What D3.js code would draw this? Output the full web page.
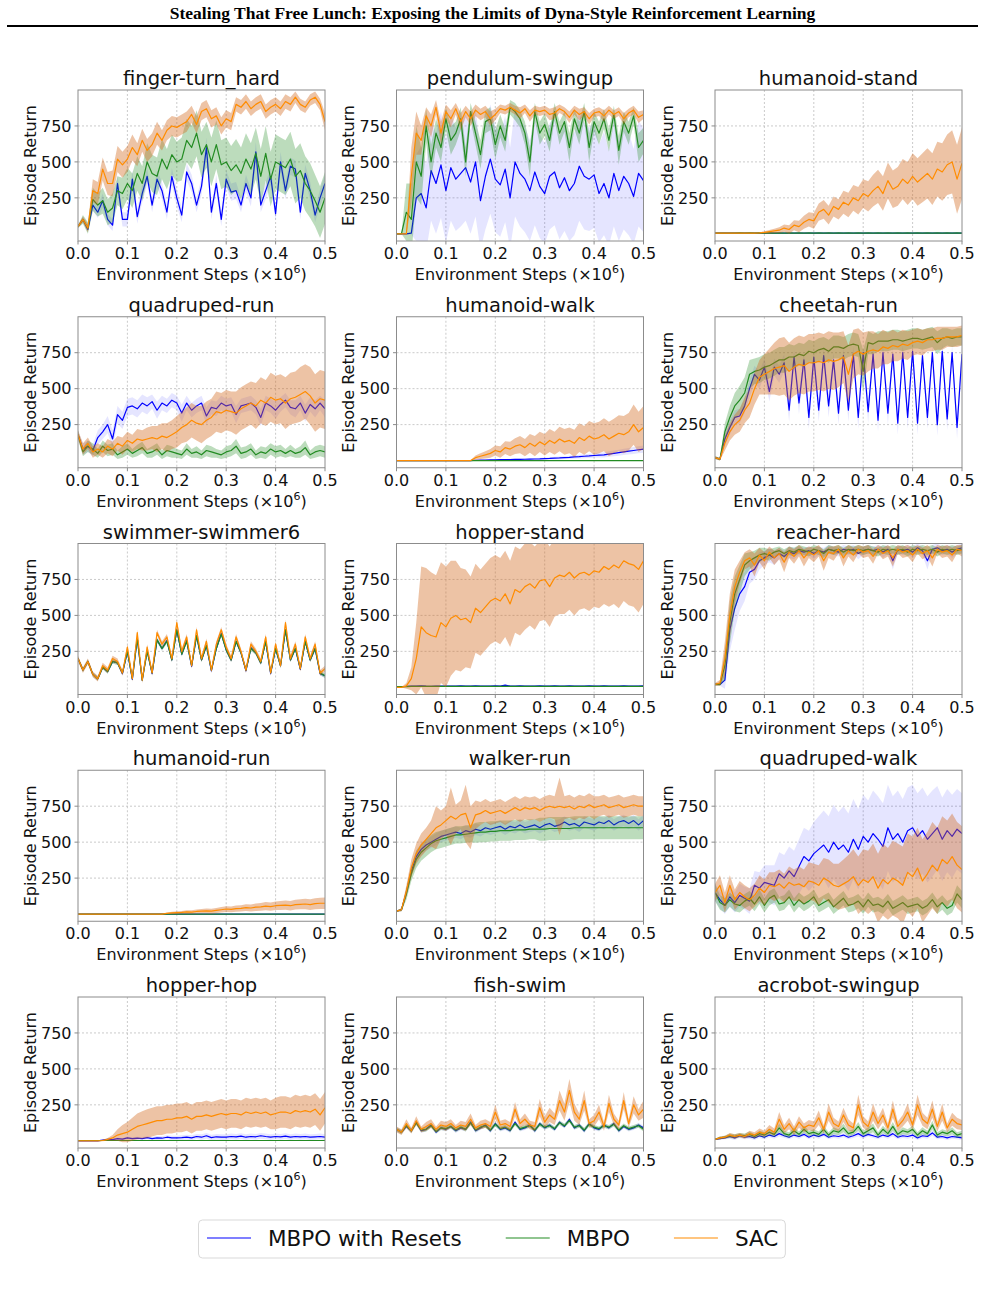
<!DOCTYPE html>
<html>
<head>
<meta charset="utf-8" />
<title>Dyna-style RL returns</title>
<style>
  body { margin: 0; background: #fff; }
  svg { display: block; font-family: "DejaVu Sans", sans-serif; }
</style>
</head>
<body>
<div id="chart"></div>
<script src="https://cdn.jsdelivr.net/npm/d3@7/dist/d3.min.js"></script>
<script>
// x grid: environment steps (x10^6)
const steps = [0,0.01,0.02,0.03,0.04,0.05,0.06,0.07,0.08,0.09,0.1,0.11,0.12,0.13,0.14,0.15,0.16,0.17,0.18,0.19,0.2,0.21,0.22,0.23,0.24,0.25,0.26,0.27,0.28,0.29,0.3,0.31,0.32,0.33,0.34,0.35,0.36,0.37,0.38,0.39,0.4,0.41,0.42,0.43,0.44,0.45,0.46,0.47,0.48,0.49,0.5];

const tasks = ["finger-turn_hard", "pendulum-swingup", "humanoid-stand", "quadruped-run", "humanoid-walk", "cheetah-run",
  "swimmer-swimmer6", "hopper-stand", "reacher-hard", "humanoid-run", "walker-run", "quadruped-walk",
  "hopper-hop", "fish-swim", "acrobot-swingup"];
const methods = ["MBPO with Resets", "MBPO", "SAC"];
const xTicks = [0, 0.1, 0.2, 0.3, 0.4, 0.5];
const yTicks = [250, 500, 750];

// finger-turn_hard
const finger_resets = [50,100,30,200,150,230,100,60,350,100, 100,380,120,280,400,200,380,300,150,400, 250,130,430,350,200,330,600,150,350,100, 380,290,300,200,350,250,570,200,300,400, 140,500,300,470,450,150,420,300,130,250, 350];
const finger_resets_sd = [10,20,20,40,40,50,40,40,60,50, 50,60,50,60,60,50,60,60,50,60, 60,50,60,60,50,60,70,50,60,50, 60,60,60,50,60,60,70,50,60,60, 50,70,60,60,60,50,60,60,50,60, 60];
const finger_mbpo = [50,100,40,240,200,230,150,180,300,280, 350,300,420,350,500,420,400,520,450,550, 500,520,650,600,700,550,620,500,620,480, 500,440,480,420,520,450,560,400,560,380, 500,480,460,520,400,440,350,300,230,150, 250];
const finger_mbpo_sd = [10,30,40,80,80,90,90,100,100,110, 110,120,120,120,130,130,130,140,140,140, 140,150,150,150,160,160,160,170,170,170, 170,170,180,180,180,180,180,190,190,190, 190,190,190,190,190,190,190,190,180,180, 180];
const finger_sac = [50,100,40,300,280,450,350,350,520,480, 520,600,550,650,580,620,700,650,720,750, 740,760,780,830,760,850,870,800,820,750, 800,780,900,880,920,870,900,920,850,880, 900,870,920,900,950,900,880,930,950,900, 780];
const finger_sac_sd = [10,20,30,80,80,80,80,90,90,90, 90,90,80,80,80,80,80,70,70,70, 70,70,70,60,60,60,60,60,60,60, 60,60,50,50,50,50,50,50,50,50, 50,50,50,50,40,40,40,40,40,40, 60];

// pendulum-swingup
const pend_resets = [0,0,0,5,250,280,180,440,350,480, 300,460,380,420,460,360,500,230,400,520, 380,340,450,250,500,420,380,300,430,330, 280,400,430,320,390,300,350,470,400,380, 410,280,350,250,420,300,400,350,260,420, 370];
const pend_resets_sd = [0,0,0,10,300,330,300,350,350,370, 360,370,360,370,370,360,380,340,370,380, 370,360,370,350,380,370,370,350,370,360, 350,370,370,360,370,350,360,380,370,360, 370,340,360,330,370,350,370,360,330,370, 360];
const pend_mbpo = [0,0,150,100,500,400,750,500,700,600, 800,650,700,800,500,850,700,550,780,800, 620,750,650,880,850,800,700,500,850,700, 760,650,850,700,780,600,800,700,850,600, 780,700,800,650,830,580,780,700,820,600, 650];
const pend_mbpo_sd = [0,0,200,250,250,200,120,120,100,100, 80,100,80,80,100,60,80,100,80,80, 100,80,80,50,60,60,80,100,60,80, 80,80,60,80,70,100,70,80,60,100, 70,80,70,80,60,100,70,80,60,100, 90];
const pend_sac = [0,0,0,400,700,650,820,750,880,700, 850,800,870,780,850,800,860,830,850,800, 830,870,860,880,860,840,870,820,860,850, 860,830,840,870,850,810,860,830,850,800, 840,850,820,860,830,850,800,840,860,810, 830];
const pend_sac_sd = [0,0,5,200,150,100,60,80,50,80, 50,60,40,60,40,50,40,40,40,50, 40,30,30,30,30,40,30,40,30,30, 30,40,40,30,30,40,30,40,30,40, 30,30,40,30,30,30,40,30,30,40, 30];

// humanoid-stand
const hstand_resets = [5,5,5,5,5,5,5,5,5,5, 5,5,5,5,5,5,5,5,5,5, 5,5,5,5,5,5,5,5,5,5, 5,5,5,5,5,5,5,5,5,5, 5,5,5,5,5,5,5,5,5,5, 5];
const hstand_resets_sd = [2,2,2,2,2,2,2,2,2,2, 2,2,2,2,2,2,2,2,2,2, 2,2,2,2,2,2,2,2,2,2, 2,2,2,2,2,2,2,2,2,2, 2,2,2,2,2,2,2,2,2,2, 2];
const hstand_mbpo = [5,5,5,5,5,6,5,6,5,6, 5,6,5,6,5,6,5,6,5,6, 5,6,5,6,5,6,5,6,5,6, 5,6,5,6,5,6,5,6,5,6, 5,6,5,6,5,6,5,6,5,6, 5];
const hstand_mbpo_sd = [2,2,2,2,2,2,2,2,2,2, 2,2,2,2,2,2,2,2,2,2, 2,2,2,2,2,2,2,2,2,2, 2,2,2,2,2,2,2,2,2,2, 2,2,2,2,2,2,2,2,2,2, 2];
const hstand_sac = [5,5,5,5,5,5,5,5,5,6, 10,15,20,25,40,30,60,50,80,100, 90,150,170,130,190,170,220,200,250,230, 280,260,300,330,280,370,310,330,380,350, 400,360,390,420,380,450,430,480,500,380, 490];
const hstand_sac_sd = [2,2,2,2,2,2,2,2,2,3, 8,12,15,20,25,30,35,40,45,50, 55,60,65,65,70,70,80,85,90,95, 100,105,110,115,120,125,130,135,140,150, 160,165,170,175,180,190,200,210,220,240, 250];

// quadruped-run
const qrun_resets = [180,80,100,70,160,200,250,150,320,280, 370,380,360,400,380,410,350,400,380,420, 400,330,400,350,380,400,310,370,360,400, 380,390,320,380,390,400,370,300,400,380, 350,390,420,370,360,400,330,390,360,400, 360];
const qrun_resets_sd = [30,40,40,40,50,50,60,60,60,60, 60,60,60,60,60,50,60,50,50,50, 50,60,50,50,50,50,60,50,50,50, 50,50,60,50,50,50,50,60,50,50, 60,50,50,50,60,50,60,50,60,50, 60];
const qrun_mbpo = [180,60,100,80,50,100,70,80,40,60, 80,50,70,90,50,60,80,40,70,60, 50,40,80,50,60,40,70,60,50,40, 60,70,100,50,60,80,40,60,50,80, 60,70,50,70,50,60,90,40,60,70, 60];
const qrun_mbpo_sd = [30,30,40,40,30,40,40,40,30,40, 40,30,40,40,30,40,40,30,40,40, 30,30,40,30,40,30,40,40,30,30, 40,40,50,40,40,40,30,40,40,40, 40,40,30,40,30,40,50,30,40,40, 40];
const qrun_sac = [180,80,120,60,80,60,100,80,120,100, 140,120,150,140,150,160,150,170,160,180, 200,230,250,280,260,250,280,300,340,330, 350,340,330,360,380,400,380,420,400,440, 420,430,400,430,440,460,480,450,400,430, 420];
const qrun_sac_sd = [30,40,40,40,40,40,50,50,50,60, 60,60,70,70,80,80,90,90,100,100, 110,110,120,120,120,130,130,130,140,140, 140,140,150,150,150,150,160,160,160,170, 170,170,180,180,180,190,190,200,200,200, 200];

// humanoid-walk
const hwalk_resets = [0,0,0,0,0,0,0,0,0,0, 0,0,0,0,0,0,2,3,4,5, 5,6,6,7,8,8,9,10,11,12, 14,15,17,18,20,22,25,27,30,32, 35,38,40,45,50,55,60,65,70,75, 80];
const hwalk_resets_sd = [1,1,1,1,1,1,1,1,1,1, 1,1,1,1,1,1,2,2,3,3, 3,4,4,5,5,5,6,6,7,7, 8,8,9,10,10,11,12,13,14,15, 16,17,18,19,20,21,22,23,24,25, 25];
const hwalk_mbpo = [0,0,0,0,0,0,0,0,0,0, 0,0,0,0,0,0,0,0,0,0, 0,0,0,0,0,0,0,0,0,0, 0,0,0,0,0,0,0,0,0,0, 0,0,0,0,0,0,0,0,0,0, 0];
const hwalk_mbpo_sd = [1,1,1,1,1,1,1,1,1,1, 1,1,1,1,1,1,1,1,1,1, 1,1,1,1,1,1,1,1,1,1, 1,1,1,1,1,1,1,1,1,1, 1,1,1,1,1,1,1,1,1,1, 1];
const hwalk_sac = [0,0,0,0,0,0,0,0,0,0, 0,0,0,0,0,0,20,30,40,50, 70,60,90,80,100,110,90,120,100,130, 110,140,120,150,130,140,120,160,140,170, 150,160,180,150,170,190,180,200,250,200, 230];
const hwalk_sac_sd = [1,1,1,1,1,1,1,1,1,1, 1,1,1,1,1,2,15,20,25,30, 35,40,45,50,55,60,60,65,70,70, 75,80,80,85,90,90,95,100,100,105, 110,110,115,120,120,125,130,130,140,140, 150];

// cheetah-run
const cheetah_resets = [20,10,150,230,300,310,380,500,600,560, 650,480,650,600,680,350,720,400,700,300, 720,350,730,380,700,330,730,350,740,300, 750,340,740,280,750,330,740,260,750,300, 760,260,730,300,750,250,760,290,750,230, 740];
const cheetah_resets_sd = [10,10,40,50,50,50,50,60,60,60, 60,70,60,60,60,80,50,80,50,80, 50,80,50,80,50,80,50,80,50,80, 50,80,50,80,50,80,50,80,50,80, 50,80,50,80,50,80,50,80,50,80, 50];
const cheetah_mbpo = [20,10,200,300,380,420,470,600,620,630, 650,660,680,700,700,720,720,740,730,760, 750,770,780,760,790,790,780,800,810,800, 620,820,810,830,830,830,840,840,830,840, 850,850,840,850,860,820,850,860,850,860, 860];
const cheetah_mbpo_sd = [10,10,60,80,90,100,110,100,90,90, 90,90,90,90,90,90,80,80,80,80, 80,80,80,80,80,80,80,80,80,80, 150,80,70,70,70,70,70,70,70,70, 70,70,70,70,70,80,70,60,60,60, 60];
const cheetah_sac = [20,10,120,200,250,280,350,400,500,580, 600,620,640,650,660,620,650,670,660,680, 680,690,680,700,690,700,720,600,740,760, 740,760,770,760,790,780,800,790,810,800, 820,830,820,840,840,850,850,860,860,860, 870];
const cheetah_sac_sd = [10,10,50,60,70,80,90,100,110,120, 140,160,180,200,200,200,200,200,200,200, 200,200,200,200,200,190,180,200,170,160, 150,140,130,120,120,110,110,100,100,100, 90,90,90,80,80,80,80,70,70,70, 70];

// swimmer-swimmer6
const swim_resets = [200,120,180,90,60,140,110,180,170,95, 250,55,340,50,255,95,330,270,325,190, 400,230,325,145,360,190,290,115,270,375, 260,190,320,240,115,275,240,170,320,95, 270,150,400,190,270,125,320,190,270,95, 80];
const swim_resets_sd = [15,15,15,15,15,15,15,15,15,15, 15,15,15,15,15,15,15,15,15,15, 15,15,15,15,15,15,15,15,15,15, 15,15,15,15,15,15,15,15,15,15, 15,15,15,15,15,15,15,15,15,15, 15];
const swim_mbpo = [200,120,180,90,60,140,110,180,170,100, 250,60,340,50,250,100,330,270,320,190, 400,230,320,150,360,190,290,120,270,370, 260,190,320,240,120,270,240,170,320,100, 270,150,400,190,270,130,320,190,270,100, 80];
const swim_mbpo_sd = [15,15,15,15,15,15,15,15,15,15, 15,15,15,15,15,15,15,15,15,15, 15,15,15,15,15,15,15,15,15,15, 15,15,15,15,15,15,15,15,15,15, 15,15,15,15,15,15,15,15,15,15, 15];
const swim_sac = [200,120,180,90,60,150,120,200,180,100, 280,60,380,50,280,100,380,300,350,200, 450,250,350,150,400,200,320,120,300,400, 280,200,350,250,120,300,250,180,350,100, 300,150,450,200,300,130,350,200,300,100, 130];
const swim_sac_sd = [20,20,20,20,20,20,20,20,20,20, 20,20,20,20,20,20,20,20,20,20, 20,20,20,20,20,20,20,20,20,20, 20,20,20,20,20,20,20,20,20,20, 20,20,20,20,20,20,20,20,20,20, 20];

// hopper-stand
const hstandh_resets = [5,5,6,8,8,10,8,7,9,8, 8,9,8,10,9,8,10,9,8,9, 10,9,15,9,8,10,9,8,9,10, 8,9,10,8,9,10,9,8,9,10, 9,8,10,9,8,9,10,9,8,9, 10];
const hstandh_resets_sd = [3,3,3,3,3,3,3,3,3,3, 3,3,3,3,3,3,3,3,3,3, 3,3,3,3,3,3,3,3,3,3, 3,3,3,3,3,3,3,3,3,3, 3,3,3,3,3,3,3,3,3,3, 3];
const hstandh_mbpo = [5,5,5,6,6,7,6,7,6,7, 6,7,6,7,6,7,6,7,6,7, 6,7,6,7,6,7,6,7,6,7, 6,7,6,7,6,7,6,7,6,7, 6,7,6,7,6,7,6,7,6,7, 6];
const hstandh_mbpo_sd = [4,4,4,4,4,4,4,4,4,4, 4,4,4,4,4,4,4,4,4,4, 4,4,4,4,4,4,4,4,4,4, 4,4,4,4,4,4,4,4,4,4, 4,4,4,4,4,4,4,4,4,4, 4];
const hstandh_sac = [0,0,10,60,200,420,380,360,350,450, 420,480,500,470,480,450,550,520,560,600, 620,600,650,580,680,660,700,720,690,740, 750,700,760,780,770,800,760,790,800,780, 810,800,840,820,850,830,880,860,850,820, 880];
const hstandh_sac_sd = [2,2,20,80,250,420,450,440,430,420, 420,400,380,360,340,320,310,300,300,300, 300,300,300,300,300,300,300,290,290,280, 280,280,270,270,260,260,260,250,250,250, 250,250,260,260,270,280,280,290,290,300, 300];

// reacher-hard
const reacher_resets = [20,20,50,400,550,650,700,800,820,880, 900,920,900,930,910,940,930,950,940,950, 930,950,940,960,950,940,960,950,960,930, 950,960,950,960,940,960,880,960,950,960, 940,970,950,880,960,970,950,960,940,960, 970];
const reacher_resets_sd = [10,10,60,150,150,120,100,80,70,60, 50,50,50,40,40,40,40,30,30,30, 40,30,30,30,30,30,30,30,30,40, 30,30,30,30,40,30,60,30,30,30, 40,30,30,60,30,30,30,30,40,30, 30];
const reacher_mbpo = [20,20,150,450,650,750,850,880,900,920, 930,920,940,950,930,950,940,960,950,940, 960,950,930,960,950,960,940,960,950,960, 950,960,950,940,960,950,960,950,960,940, 960,950,960,950,960,940,960,950,960,950, 960];
const reacher_mbpo_sd = [10,10,100,150,120,100,80,60,50,50, 40,40,30,30,30,30,30,30,30,30, 30,30,30,30,30,30,30,30,30,30, 30,30,30,30,30,30,30,30,30,30, 30,30,30,30,30,30,30,30,30,30, 30];
const reacher_sac = [20,30,200,500,700,800,880,900,850,920, 880,940,900,930,870,940,910,950,900,940, 920,950,880,940,930,960,900,950,920,960, 940,950,910,960,930,950,900,960,940,950, 920,960,930,950,900,960,940,950,920,960, 950];
const reacher_sac_sd = [10,20,120,150,120,80,60,60,80,50, 60,40,50,40,70,40,50,40,60,40, 50,40,70,40,50,30,60,40,50,30, 40,40,50,30,40,40,60,30,40,40, 50,30,40,40,60,30,40,40,50,30, 40];

// humanoid-run
const hrun_resets = [0,0,0,0,0,0,0,0,0,0, 0,0,0,0,0,0,0,0,0,0, 0,0,0,0,0,0,0,0,0,0, 0,0,0,0,0,0,0,0,0,0, 0,0,0,0,0,0,0,0,0,0, 0];
const hrun_resets_sd = [1,1,1,1,1,1,1,1,1,1, 1,1,1,1,1,1,1,1,1,1, 1,1,1,1,1,1,1,1,1,1, 1,1,1,1,1,1,1,1,1,1, 1,1,1,1,1,1,1,1,1,1, 1];
const hrun_mbpo = [0,0,0,0,0,0,0,0,0,0, 0,0,0,0,0,0,0,0,0,0, 0,0,0,0,0,0,0,0,0,0, 0,0,0,0,0,0,0,0,0,0, 0,0,0,0,0,0,0,0,0,0, 0];
const hrun_mbpo_sd = [1,1,1,1,1,1,1,1,1,1, 1,1,1,1,1,1,1,1,1,1, 1,1,1,1,1,1,1,1,1,1, 1,1,1,1,1,1,1,1,1,1, 1,1,1,1,1,1,1,1,1,1, 1];
const hrun_sac = [0,0,0,0,0,0,0,0,0,0, 0,0,0,0,0,0,0,0,5,8, 10,12,15,14,18,20,22,20,25,30, 35,32,38,40,45,42,48,50,55,52, 58,60,62,58,65,68,70,66,72,75, 75];
const hrun_sac_sd = [1,1,1,1,1,1,1,1,1,1, 1,1,1,1,1,1,1,2,5,8, 10,10,12,12,14,15,16,17,18,19, 20,20,22,22,24,25,26,27,28,29, 30,31,32,33,34,35,36,37,38,39, 40];

// walker-run
const walker_resets = [20,30,150,300,400,450,480,500,520,540, 550,560,570,560,580,570,590,580,600,590, 600,610,590,610,600,620,600,610,620,600, 620,630,610,620,640,620,630,610,640,630, 620,640,630,650,620,640,650,630,650,620, 650];
const walker_resets_sd = [5,10,30,40,40,40,40,40,40,40, 40,40,40,40,40,40,40,40,40,40, 40,40,40,40,40,40,40,40,40,40, 40,40,40,40,40,40,40,40,40,40, 40,40,40,40,40,40,40,40,40,40, 40];
const walker_mbpo = [20,30,140,280,380,430,460,490,510,520, 530,540,550,550,555,560,565,570,570,575, 575,580,580,580,585,585,585,590,590,590, 590,595,595,595,595,595,600,600,600,600, 600,600,600,600,600,600,600,600,600,600, 600];
const walker_mbpo_sd = [5,10,40,50,60,60,60,60,60,60, 60,60,60,60,60,60,70,70,70,70, 70,70,70,70,70,70,70,70,70,80, 80,80,80,80,80,80,80,80,80,80, 80,80,80,80,80,80,80,80,80,80, 80];
const walker_sac = [20,30,160,320,420,480,520,560,600,620, 650,680,660,690,700,600,690,700,720,700, 710,720,700,720,740,720,740,730,740,720, 740,750,740,750,740,750,730,750,740,760, 740,750,760,740,750,760,740,750,760,750, 750];
const walker_sac_sd = [5,10,40,60,70,80,80,90,150,100, 100,200,100,100,200,150,100,80,80,80, 80,80,80,80,80,80,80,80,80,80, 80,80,80,200,80,80,80,80,80,80, 80,70,70,70,70,70,70,70,70,70, 70];

// quadruped-walk
const qwalk_resets = [150,100,60,120,80,130,110,90,200,180, 220,210,200,280,250,300,260,330,400,370, 420,450,480,430,500,450,480,430,520,450, 540,500,560,520,470,600,520,560,500,580, 600,540,580,520,560,600,520,580,540,590, 560];
const qwalk_resets_sd = [60,60,60,70,70,80,80,90,100,110, 120,130,140,150,160,170,180,190,200,210, 220,230,240,250,260,260,270,270,280,280, 290,290,300,300,300,300,300,300,300,300, 300,300,300,300,300,290,290,290,290,280, 280];
const qwalk_mbpo = [150,80,60,100,70,60,90,110,70,120, 60,110,130,70,80,120,60,100,70,90, 120,60,80,100,50,80,110,60,70,90, 50,100,60,70,50,90,40,60,80,50, 60,70,40,60,100,50,80,40,60,140, 100];
const qwalk_mbpo_sd = [60,50,50,50,50,50,50,50,50,50, 50,50,50,50,50,50,50,50,50,50, 50,50,50,50,50,50,50,50,50,50, 50,50,50,50,50,50,50,50,50,50, 50,50,50,50,50,50,50,50,50,60, 60];
const qwalk_sac = [150,200,80,200,100,150,120,100,130,180, 150,200,190,210,180,220,200,210,190,230, 220,200,250,230,200,190,210,230,260,200, 240,220,260,180,240,210,250,230,200,290, 260,320,230,280,340,300,380,350,400,340, 310];
const qwalk_sac_sd = [60,70,70,70,70,80,80,80,80,90, 90,90,100,100,100,110,110,120,120,130, 130,140,140,150,150,160,170,180,190,200, 210,220,230,240,250,250,260,260,270,270, 280,280,290,290,300,300,300,300,300,300, 300];

// hopper-hop
const hop_resets = [0,0,0,0,0,5,10,8,15,12, 20,15,18,15,22,15,20,18,25,20, 20,22,25,20,30,25,35,22,28,25, 25,30,28,32,25,30,28,35,30,26, 30,28,32,26,30,28,30,25,28,30, 25];
const hop_resets_sd = [2,2,2,2,2,4,6,6,8,8, 10,10,10,12,12,12,14,14,14,16, 16,16,18,18,18,20,20,20,20,20, 20,20,20,20,20,20,20,20,20,20, 20,20,20,20,20,20,20,20,20,20, 20];
const hop_mbpo = [2,2,2,2,2,2,2,2,2,2, 2,2,2,2,2,2,2,2,2,2, 2,2,2,2,2,2,2,2,2,2, 2,2,2,2,2,2,2,2,2,2, 2,2,2,2,2,2,2,2,2,2, 2];
const hop_mbpo_sd = [2,2,2,2,2,2,2,2,2,2, 2,2,2,2,2,2,2,2,2,2, 2,2,2,2,2,2,2,2,2,2, 2,2,2,2,2,2,2,2,2,2, 2,2,2,2,2,2,2,2,2,2, 2];
const hop_sac = [0,0,0,0,0,2,10,20,40,50, 60,80,100,110,120,130,140,140,150,150, 160,160,170,150,170,170,180,170,180,190, 180,190,190,180,200,190,200,190,200,180, 190,200,200,190,210,200,210,200,220,180, 230];
const hop_sac_sd = [1,1,1,1,1,5,10,20,40,60, 70,80,90,95,100,100,100,100,100,100, 100,100,100,100,100,100,100,100,100,100, 100,100,100,100,100,100,100,100,100,100, 110,110,110,110,110,110,110,110,110,110, 110];

// fish-swim
const fish_resets = [80,60,100,70,130,70,80,110,60,90, 80,100,70,90,80,130,70,90,110,70, 120,80,90,70,130,80,90,110,70,120, 90,110,80,130,100,150,90,110,70,120, 90,80,110,90,120,70,100,80,90,110, 90];
const fish_resets_sd = [15,15,15,15,15,15,15,15,15,15, 15,15,15,15,15,15,15,15,15,15, 15,15,15,15,15,15,15,15,15,15, 15,15,15,15,15,15,15,15,15,15, 15,15,15,15,15,15,15,15,15,15, 15];
const fish_mbpo = [80,60,105,70,125,75,80,105,65,90, 85,100,75,95,80,125,75,95,105,75, 115,85,95,75,120,85,95,105,75,115, 95,105,85,125,105,140,95,105,75,115, 95,85,105,95,115,75,105,85,95,105, 80];
const fish_mbpo_sd = [15,15,15,15,15,15,15,15,15,15, 15,15,15,15,15,15,15,15,15,15, 15,15,15,15,15,15,15,15,15,15, 15,15,15,15,15,15,15,15,15,15, 15,15,15,15,15,15,15,15,15,15, 15];
const fish_sac = [80,60,120,70,140,80,100,120,80,110, 100,120,90,110,100,150,90,110,120,100, 200,110,120,100,220,120,150,110,100,230, 130,180,150,280,200,350,200,150,280,120, 140,200,100,260,150,110,280,120,250,180, 220];
const fish_sac_sd = [20,20,30,20,30,20,30,30,20,30, 30,30,20,30,30,40,20,30,30,30, 50,30,30,30,50,30,40,30,30,60, 40,50,40,70,60,80,60,40,70,30, 40,50,30,60,40,30,60,30,60,40, 60];

// acrobot-swingup
const acro_resets = [10,15,20,30,20,35,25,30,20,35, 25,40,30,50,35,25,40,30,45,25, 40,30,45,25,35,30,40,25,35,50, 30,45,35,25,40,30,50,25,35,30, 40,20,35,30,55,25,30,20,30,25, 20];
const acro_resets_sd = [5,10,10,15,15,15,15,15,15,15, 15,15,15,20,15,15,15,15,15,15, 15,15,15,15,15,15,15,15,15,20, 15,15,15,15,15,15,20,15,15,15, 15,15,15,15,20,15,15,15,15,15, 15];
const acro_mbpo = [10,20,25,35,30,40,35,45,30,50, 40,60,45,90,50,40,70,45,80,50, 60,45,80,40,70,60,90,50,60,100, 50,70,90,40,80,50,100,45,70,60, 80,40,70,50,110,40,60,50,70,40, 50];
const acro_mbpo_sd = [5,10,10,15,15,15,15,20,15,20, 20,20,20,30,20,20,25,20,25,20, 20,20,25,20,25,20,30,20,20,30, 20,25,30,20,25,20,30,20,25,20, 25,20,25,20,30,20,20,20,25,20, 20];
const acro_sac = [10,20,25,40,30,40,30,50,40,60, 50,80,60,150,80,120,70,130,90,110, 100,160,80,200,120,100,180,110,90,250, 130,100,200,120,180,90,220,100,140,200, 110,250,150,120,220,100,200,90,150,120, 110];
const acro_sac_sd = [5,10,10,15,15,15,15,20,20,25, 20,30,25,50,30,40,30,40,30,35, 35,50,30,60,40,35,50,40,30,70, 40,35,60,40,50,30,60,35,40,60, 35,70,45,40,60,35,60,30,45,40, 35];

// rows of panels: [resets, resets sd, mbpo, mbpo sd, sac, sac sd]
const panelSeries = [
  [finger_resets, finger_resets_sd, finger_mbpo, finger_mbpo_sd, finger_sac, finger_sac_sd],
  [pend_resets, pend_resets_sd, pend_mbpo, pend_mbpo_sd, pend_sac, pend_sac_sd],
  [hstand_resets, hstand_resets_sd, hstand_mbpo, hstand_mbpo_sd, hstand_sac, hstand_sac_sd],
  [qrun_resets, qrun_resets_sd, qrun_mbpo, qrun_mbpo_sd, qrun_sac, qrun_sac_sd],
  [hwalk_resets, hwalk_resets_sd, hwalk_mbpo, hwalk_mbpo_sd, hwalk_sac, hwalk_sac_sd],
  [cheetah_resets, cheetah_resets_sd, cheetah_mbpo, cheetah_mbpo_sd, cheetah_sac, cheetah_sac_sd],
  [swim_resets, swim_resets_sd, swim_mbpo, swim_mbpo_sd, swim_sac, swim_sac_sd],
  [hstandh_resets, hstandh_resets_sd, hstandh_mbpo, hstandh_mbpo_sd, hstandh_sac, hstandh_sac_sd],
  [reacher_resets, reacher_resets_sd, reacher_mbpo, reacher_mbpo_sd, reacher_sac, reacher_sac_sd],
  [hrun_resets, hrun_resets_sd, hrun_mbpo, hrun_mbpo_sd, hrun_sac, hrun_sac_sd],
  [walker_resets, walker_resets_sd, walker_mbpo, walker_mbpo_sd, walker_sac, walker_sac_sd],
  [qwalk_resets, qwalk_resets_sd, qwalk_mbpo, qwalk_mbpo_sd, qwalk_sac, qwalk_sac_sd],
  [hop_resets, hop_resets_sd, hop_mbpo, hop_mbpo_sd, hop_sac, hop_sac_sd],
  [fish_resets, fish_resets_sd, fish_mbpo, fish_mbpo_sd, fish_sac, fish_sac_sd],
  [acro_resets, acro_resets_sd, acro_mbpo, acro_mbpo_sd, acro_sac, acro_sac_sd]
];

var width = 985, height = 1298;
var panelW = 247, panelH = 151;
var colX = [78, 396.5, 715];
var rowY = [90, 316.75, 543.5, 770.25, 997];
var lineColors = ["#0000ff", "#228b22", "#ff8c00"];
var bandColors = ["#0000ff", "#228b22", "#d2691e"];
var bandOpacity = [0.1, 0.3, 0.4];
var frameColor = "#8c8c8c";

var x = d3.scaleLinear().domain([0, 0.5]).range([0, panelW]);
var y = d3.scaleLinear().domain([-50, 1000]).range([panelH, 0]);

const svg = d3.select("#chart")
  .append("svg")
  .attr("width", width)
  .attr("height", height);

// page header
svg.append("text")
  .attr("x", 492.5)
  .attr("y", 19)
  .attr("text-anchor", "middle")
  .attr("font-family", "'Liberation Serif', 'Times New Roman', serif")
  .attr("font-weight", "bold")
  .attr("font-size", 17.5)
  .text("Stealing That Free Lunch: Exposing the Limits of Dyna-Style Reinforcement Learning");
svg.append("line")
  .attr("x1", 7).attr("x2", 978)
  .attr("y1", 26).attr("y2", 26)
  .attr("stroke", "#000")
  .attr("stroke-width", 2);

tasks.forEach(function (name, i) {
  var g = svg.append("g")
    .attr("transform", `translate(${colX[i % 3]},${rowY[Math.floor(i / 3)]})`);

  g.append("clipPath").attr("id", "clip-" + i)
    .append("rect").attr("width", panelW).attr("height", panelH);

  // grid
  g.append("g").selectAll("line")
    .data(xTicks.slice(1, -1))
    .join("line")
    .attr("x1", d => x(d)).attr("x2", d => x(d))
    .attr("y1", 0).attr("y2", panelH)
    .attr("stroke", "#bdbdbd").attr("stroke-width", 0.8)
    .attr("stroke-dasharray", "2,2");
  g.append("g").selectAll("line")
    .data(yTicks)
    .join("line")
    .attr("x1", 0).attr("x2", panelW)
    .attr("y1", d => y(d)).attr("y2", d => y(d))
    .attr("stroke", "#bdbdbd").attr("stroke-width", 0.8)
    .attr("stroke-dasharray", "2,2");

  var plot = g.append("g").attr("clip-path", `url(#clip-${i})`);
  var s = panelSeries[i];
  [0, 1, 2].forEach(function (k) {
    var mean = s[2 * k], sd = s[2 * k + 1];
    var pts = steps.map((t, j) => ({ t: t, m: mean[j], sd: sd[j] }));
    plot.append("path")
      .datum(pts)
      .attr("fill", bandColors[k])
      .attr("fill-opacity", bandOpacity[k])
      .attr("d", d3.area()
        .x(d => x(d.t))
        .y0(d => y(d.m - d.sd))
        .y1(d => y(d.m + d.sd)));
    plot.append("path")
      .datum(pts)
      .attr("fill", "none")
      .attr("stroke", lineColors[k])
      .attr("stroke-width", 1.2)
      .attr("stroke-linejoin", "round")
      .attr("d", d3.line().x(d => x(d.t)).y(d => y(d.m)));
  });

  // frame
  g.append("rect")
    .attr("width", panelW).attr("height", panelH)
    .attr("fill", "none")
    .attr("stroke", frameColor)
    .attr("stroke-width", 1);

  // tick marks
  g.append("g").selectAll("line")
    .data(xTicks)
    .join("line")
    .attr("x1", d => x(d)).attr("x2", d => x(d))
    .attr("y1", panelH).attr("y2", panelH + 3.5)
    .attr("stroke", frameColor);
  g.append("g").selectAll("line")
    .data(yTicks)
    .join("line")
    .attr("x1", -3.5).attr("x2", 0)
    .attr("y1", d => y(d)).attr("y2", d => y(d))
    .attr("stroke", frameColor);

  // tick labels
  g.append("g").selectAll("text")
    .data(xTicks)
    .join("text")
    .attr("x", d => x(d))
    .attr("y", panelH + 18)
    .attr("text-anchor", "middle")
    .attr("font-size", 16)
    .attr("fill", "#111")
    .text(d3.format(".1f"));
  g.append("g").selectAll("text")
    .data(yTicks)
    .join("text")
    .attr("x", -6.5)
    .attr("y", d => y(d))
    .attr("dy", "0.36em")
    .attr("text-anchor", "end")
    .attr("font-size", 16)
    .attr("fill", "#111")
    .text(d => d);

  // title and axis labels
  g.append("text")
    .attr("x", panelW / 2)
    .attr("y", -5)
    .attr("text-anchor", "middle")
    .attr("font-size", 19.5)
    .attr("fill", "#111")
    .text(name);

  var xl = g.append("text")
    .attr("x", panelW / 2)
    .attr("y", panelH + 39)
    .attr("text-anchor", "middle")
    .attr("font-size", 16)
    .attr("fill", "#111");
  xl.append("tspan").text("Environment Steps (\u00d710");
  xl.append("tspan").attr("font-size", 11).attr("dy", -7).text("6");
  xl.append("tspan").attr("dy", 7).text(")");

  g.append("text")
    .attr("transform", `translate(-48,${panelH / 2}) rotate(-90)`)
    .attr("text-anchor", "middle")
    .attr("dy", "0.36em")
    .attr("font-size", 16)
    .attr("fill", "#111")
    .text("Episode Return");
});

// legend
var legend = svg.append("g");
var box = legend.append("rect")
  .attr("x", 198.5).attr("y", 1220)
  .attr("height", 38)
  .attr("rx", 4)
  .attr("fill", "#fff")
  .attr("stroke", "#d9d9d9");
var lx = 207;
methods.forEach(function (m, k) {
  legend.append("line")
    .attr("x1", lx).attr("x2", lx + 44)
    .attr("y1", 1238).attr("y2", 1238)
    .attr("stroke", lineColors[k])
    .attr("stroke-width", 1.2);
  var t = legend.append("text")
    .attr("x", lx + 61)
    .attr("y", 1246)
    .attr("font-size", 21.5)
    .attr("fill", "#111")
    .text(m);
  lx = lx + 61 + t.node().getComputedTextLength() + 44;
});
box.attr("width", lx - 44 + 7 - 198.5);
</script>
</body>
</html>
